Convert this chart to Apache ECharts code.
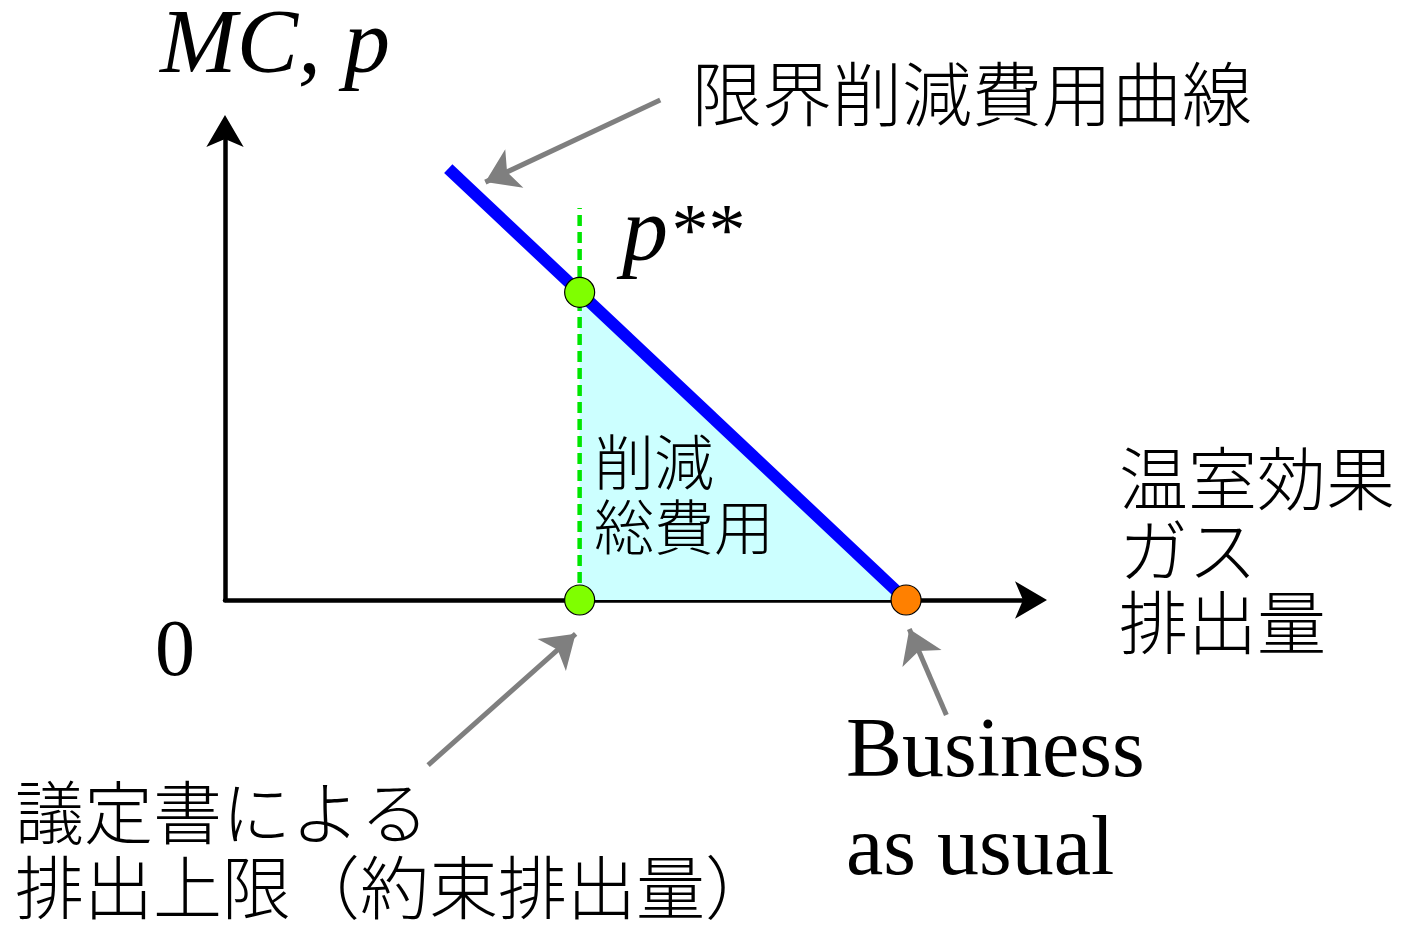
<!DOCTYPE html>
<html>
<head>
<meta charset="utf-8">
<script src="https://cdn.jsdelivr.net/npm/echarts@6/dist/echarts.min.js"></script>
<style>
  html, body { margin: 0; padding: 0; background: #fff; }
  #main { width: 1404px; height: 925px; }
</style>
</head>
<body>
<div id="main"></div>
<script>
// data (0..100 on both axes)
const mcCurve = [[27.7, 92], [84.5, 0]];          // 限界削減費用曲線
const costArea = [[44, 65.6], [84.5, 0]];         // 削減総費用 (area under curve)
const quotaLine = [[44, 0], [44, 83.6]];          // green dashed line
const greenPoints = [[44, 65.6], [44, 0]];        // p** and 約束排出量
const orangePoints = [[84.5, 0]];                 // Business as usual
const pointerArrows = [
  [[54.0, 106.6], [32.3, 89.1]],
  [[25.2, -35.2], [43.5, -7.2]],
  [[89.5, -24.5], [84.9, -6.2]]
];

const jp = '"Noto Sans CJK JP", sans-serif';
const serif = '"Liberation Serif", serif';

var chartDom = document.getElementById('main');
var myChart = echarts.init(chartDom);
var option;

// 坐标轴共用样式
const axisCommon = {
  type: 'value', min: 0, max: 100,
  splitLine: { show: false }, axisTick: { show: false }, axisLabel: { show: false },
  axisLine: { show: true, symbol: ['none', 'arrow'], symbolSize: [28, 32], symbolOffset: [0, 16],
    lineStyle: { color: '#000', width: 4.5 } }
};

option = {
  animation: false,
  grid: { left: 225, top: 131, right: 373, bottom: 325 },
  xAxis: axisCommon,
  yAxis: axisCommon,
  series: [
    {
      type: 'line', data: costArea, symbol: 'none', z: 1,
      lineStyle: { width: 0, opacity: 0 },
      areaStyle: { color: '#ccffff', opacity: 1 }
    },
    {
      type: 'line', data: quotaLine, symbol: 'none', z: 2,
      lineStyle: { color: '#00e600', width: 4.5, type: [11, 6] }
    },
    {
      type: 'line', data: mcCurve, symbol: 'none', z: 3,
      lineStyle: { color: '#0000ff', width: 12, cap: 'butt' }
    },
    {
      type: 'lines', coordinateSystem: 'cartesian2d', clip: false, z: 4,
      symbol: ['none', 'arrow'], symbolSize: [28, 32],
      lineStyle: { color: '#7f7f7f', width: 5, opacity: 1, curveness: 0 },
      data: pointerArrows.map(function (a) { return { coords: a }; })
    },
    {
      type: 'scatter', data: greenPoints, symbolSize: 30, z: 5,
      itemStyle: { color: '#7fff00', borderColor: '#000', borderWidth: 1.2, opacity: 1 }
    },
    {
      type: 'scatter', data: orangePoints, symbolSize: 30, z: 5,
      itemStyle: { color: '#ff8000', borderColor: '#000', borderWidth: 1.2, opacity: 1 }
    }
  ],
  graphic: [
    { type: 'text', z: 100, style: { text: 'MC, p', x: 160, y: 48, font: 'italic 92px ' + serif,
      fill: '#000', textVerticalAlign: 'middle' } },
    { type: 'text', z: 100, style: { text: '0', x: 175, y: 654, font: '80px ' + serif,
      fill: '#000', textAlign: 'center', textVerticalAlign: 'middle' } },
    { type: 'text', z: 100, style: { text: 'p', x: 622, y: 236, font: 'italic 92px ' + serif,
      fill: '#000', textVerticalAlign: 'middle' } },
    { type: 'text', z: 100, style: { text: '**', x: 668, y: 236, font: 'italic 74px ' + serif,
      fill: '#000', textVerticalAlign: 'middle' } },
    { type: 'text', z: 100, style: { text: '限界削減費用曲線', x: 692, y: 94, font: '300 70px ' + jp,
      fill: '#000', textVerticalAlign: 'middle' } },
    { type: 'text', z: 100, style: { text: '削減\n総費用', x: 594, y: 495, font: '300 60px ' + jp,
      lineHeight: 65, fill: '#000', textVerticalAlign: 'middle' } },
    { type: 'text', z: 100, style: { text: '温室効果\nガス\n排出量', x: 1119, y: 551, font: '300 69px ' + jp,
      lineHeight: 72, fill: '#000', textVerticalAlign: 'middle' } },
    { type: 'text', z: 100, style: { text: '議定書による\n排出上限（約束排出量）', x: 15, y: 850, font: '300 69px ' + jp,
      lineHeight: 75, fill: '#000', textVerticalAlign: 'middle' } },
    { type: 'text', z: 100, style: { text: 'Business\nas usual', x: 846, y: 803, font: '84px ' + serif,
      lineHeight: 98, fill: '#000', textVerticalAlign: 'middle' } }
  ]
};

option && myChart.setOption(option);
</script>
</body>
</html>
